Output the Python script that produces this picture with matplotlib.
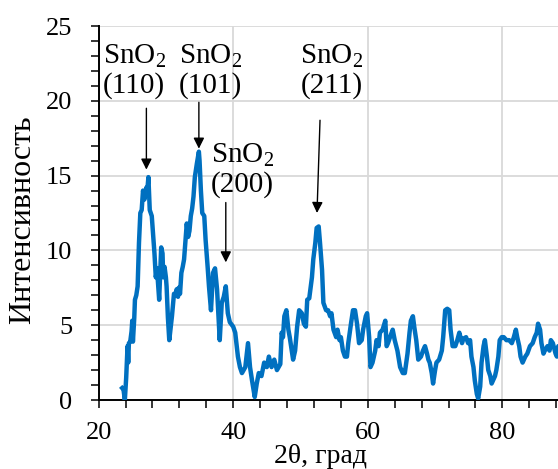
import matplotlib
matplotlib.use("Agg")
import matplotlib.pyplot as plt
from matplotlib.ticker import MultipleLocator

plt.rcParams['font.family'] = ['Liberation Serif', 'DejaVu Serif']
plt.rcParams['mathtext.fontset'] = 'custom'
plt.rcParams['mathtext.rm'] = 'Liberation Serif'
plt.rcParams['mathtext.it'] = 'Liberation Serif:italic'

# XRD pattern: diffraction angle 2θ (deg) and intensity
two_theta = [
    23.5, 23.7, 23.9, 24.1, 24.3, 24.4, 24.5, 24.7, 24.9, 25.0, 25.1, 25.3, 25.4, 25.6, 25.8,
    26.0, 26.2, 26.4, 26.6, 26.8, 26.9, 27.1, 27.2, 27.4, 27.6, 27.9, 28.1, 28.3, 28.5, 28.7,
    28.8, 29.0, 29.2, 29.3, 29.5, 29.6, 29.8, 30.0, 30.1, 30.3, 30.5, 30.7, 30.9, 31.1, 31.2,
    31.4, 31.6, 31.8, 31.9, 32.1, 32.3, 32.5, 32.7, 32.9, 33.1, 33.3, 33.5, 33.7, 33.9, 34.1,
    34.3, 34.6, 34.9, 35.0, 35.2, 35.4, 35.7, 35.9, 36.2, 36.4, 36.7, 37.0, 37.3, 37.6, 37.9,
    38.0, 38.3, 38.6, 38.9, 39.2, 39.5, 40.0, 40.3, 40.7, 41.0, 41.3, 41.8, 42.2, 42.5, 42.8,
    43.2, 43.5, 43.8, 44.2, 44.6, 45.0, 45.3, 45.7, 46.1, 46.5, 47.0, 47.2, 47.4, 47.6, 47.9,
    48.2, 48.4, 48.7, 48.9, 49.2, 49.5, 49.8, 50.2, 50.5, 50.8, 51.0, 51.3, 51.7, 51.9, 52.2,
    52.4, 52.7, 52.9, 53.2, 53.4, 53.8, 54.1, 54.4, 54.6, 54.9, 55.3, 55.5, 55.8, 56.0, 56.3,
    56.6, 56.9, 57.1, 57.5, 57.8, 58.1, 58.4, 58.7, 59.1, 59.3, 59.7, 59.9, 60.2, 60.4, 60.7,
    61.1, 61.3, 61.6, 61.8, 62.2, 62.6, 62.8, 63.0, 63.3, 63.7, 64.0, 64.4, 64.8, 65.2, 65.5,
    65.9, 66.2, 66.4, 66.7, 66.9, 67.2, 67.5, 67.9, 68.2, 68.5, 68.8, 69.0, 69.2, 69.5, 69.7,
    70.0, 70.2, 70.6, 71.0, 71.2, 71.5, 71.8, 72.1, 72.3, 72.6, 73.0, 73.3, 73.6, 74.0, 74.2,
    74.6, 74.9, 75.2, 75.4, 75.7, 75.9, 76.2, 76.4, 76.7, 76.9, 77.2, 77.4, 77.7, 77.9, 78.2,
    78.4, 78.6, 78.9, 79.1, 79.4, 79.6, 79.9, 80.2, 80.6, 81.0, 81.4, 81.7, 82.0, 82.2, 82.5,
    82.7, 83.0, 83.4, 83.7, 84.1, 84.5, 84.8, 85.1, 85.3, 85.6, 85.8, 86.1, 86.3, 86.7, 87.0,
    87.2, 87.5, 87.9, 88.1, 88.3, 88.6, 89.0,
]
intensity = [
    0.8, 0.7, 0.0, 1.5, 3.6, 2.5, 3.8, 3.9, 4.6, 5.3, 3.9, 5.5, 6.7, 7.0, 7.6,
    10.5, 12.5, 12.7, 14.0, 13.4, 13.6, 14.2, 13.8, 14.9, 12.7, 12.3, 11.0, 9.8, 8.2, 8.8,
    8.0, 6.7, 9.0, 10.2, 9.8, 8.2, 8.9, 8.2, 7.6, 5.5, 4.0, 4.8, 5.6, 6.6, 7.1,
    7.0, 7.4, 6.9, 7.5, 7.1, 8.5, 8.9, 9.4, 10.6, 11.8, 10.9, 11.3, 12.3, 12.8, 13.6,
    14.9, 15.8, 16.6, 16.0, 14.0, 12.5, 12.3, 10.7, 8.9, 7.6, 6.0, 8.5, 8.8, 7.4, 4.9,
    4.0, 6.5, 6.9, 7.6, 5.8, 5.2, 4.9, 4.5, 2.9, 2.2, 1.8, 2.2, 3.8, 2.2, 1.3,
    0.2, 1.1, 1.8, 1.6, 2.5, 2.2, 2.9, 2.2, 2.7, 2.0, 2.4, 4.5, 4.2, 5.6, 6.0,
    4.7, 4.2, 3.3, 2.7, 3.3, 4.9, 6.0, 5.8, 5.1, 4.9, 6.7, 6.8, 8.2, 9.4, 10.5,
    11.5, 11.6, 10.5, 8.7, 6.5, 6.0, 6.0, 5.6, 5.8, 4.7, 4.2, 4.7, 4.0, 4.2, 3.3,
    2.9, 2.9, 3.8, 5.1, 6.0, 6.0, 5.1, 3.8, 4.0, 4.7, 5.6, 5.8, 4.2, 2.2, 2.5,
    3.3, 4.0, 3.6, 4.5, 4.7, 5.3, 3.6, 3.8, 4.2, 4.7, 4.0, 3.3, 2.2, 1.8, 1.8,
    3.1, 4.5, 5.3, 5.6, 4.9, 4.0, 2.7, 2.9, 3.3, 3.6, 3.1, 2.7, 2.5, 1.8, 1.1,
    2.0, 2.5, 2.7, 3.3, 4.2, 6.0, 6.1, 6.0, 4.7, 3.6, 3.6, 4.0, 4.5, 3.8, 4.1,
    4.2, 3.8, 4.0, 2.9, 2.2, 1.3, 0.4, 0.1, 0.9, 2.5, 3.6, 4.0, 2.9, 2.0, 1.6,
    1.1, 1.3, 1.6, 2.0, 2.9, 4.0, 4.2, 4.2, 4.0, 4.0, 3.8, 4.2, 4.7, 4.2, 3.6,
    2.9, 2.5, 2.9, 3.1, 3.6, 3.8, 4.2, 4.5, 5.1, 4.7, 3.8, 3.1, 3.3, 3.6, 3.3,
    4.0, 3.8, 3.1, 2.9, 3.6, 3.4, 3.5,
]

# Indexed SnO2 reflections: label, arrow tip (2θ, intensity)
peak_labels = ["(110)", "(101)", "(200)", "(211)"]
peak_theta = [27.1, 34.9, 38.9, 52.45]
peak_height = [15.4, 16.8, 9.2, 12.5]

W, H = 558, 469
fig = plt.figure(figsize=(W / 100, H / 100), dpi=100)
# x from 20 to 90: 6.73 px per degree; y from 0 to 25: 14.96 px per unit
ax = fig.add_axes([98.6 / W, 69 / H, 70 * 6.73 / W, 374 / H])

ax.plot(two_theta, intensity, color="#0070C0", lw=3.2, solid_joinstyle="round", zorder=3)

ax.set_xlim(20, 90)
ax.set_ylim(0, 25)
ax.xaxis.set_major_locator(MultipleLocator(20))
ax.xaxis.set_minor_locator(MultipleLocator(4))
ax.yaxis.set_major_locator(MultipleLocator(5))
ax.yaxis.set_minor_locator(MultipleLocator(1))

ax.grid(True, which="major", color="#D9D9D9", lw=1.3, zorder=0)
ax.set_axisbelow(True)
for s in ("top", "right"):
    ax.spines[s].set_visible(False)
for s in ("left", "bottom"):
    ax.spines[s].set_linewidth(1.4)
    ax.spines[s].set_color("black")

ax.tick_params(axis="both", which="both", direction="out", length=6, width=1.1, colors="black")
ax.tick_params(axis="y", which="major", pad=13, labelsize=19)
ax.tick_params(axis="x", which="major", pad=10, labelsize=19)

fig.text(23 / W, 1 - 220 / H, "Интенсивность", rotation=90, ha="center", va="center", fontsize=23)
fig.text(320 / W, 1 - 463 / H, "2θ, град", ha="center", va="baseline", fontsize=20)

# Label positions (data coords) and arrow tails
text_pos = [(20.65, 22.0), (31.9, 22.0), (36.65, 15.4), (50.0, 22.0)]
tail_pos = [(27.1, 19.5), (34.9, 19.9), (38.9, 13.2), (52.9, 18.7)]

for lab, tx, ty_, (xt, yt), (xa, ya) in zip(peak_labels, peak_theta, peak_height, text_pos, tail_pos):
    ax.text(xt, yt, "SnO$_2$\n" + lab, ha="left", va="center", fontsize=21,
            linespacing=1.1, multialignment="left", zorder=4)
    ax.annotate("", xy=(tx, ty_), xytext=(xa, ya),
                arrowprops=dict(arrowstyle="-|>", color="black", lw=1.0,
                                mutation_scale=16, shrinkA=0, shrinkB=0), zorder=4)

fig.savefig("out.png", dpi=100)
